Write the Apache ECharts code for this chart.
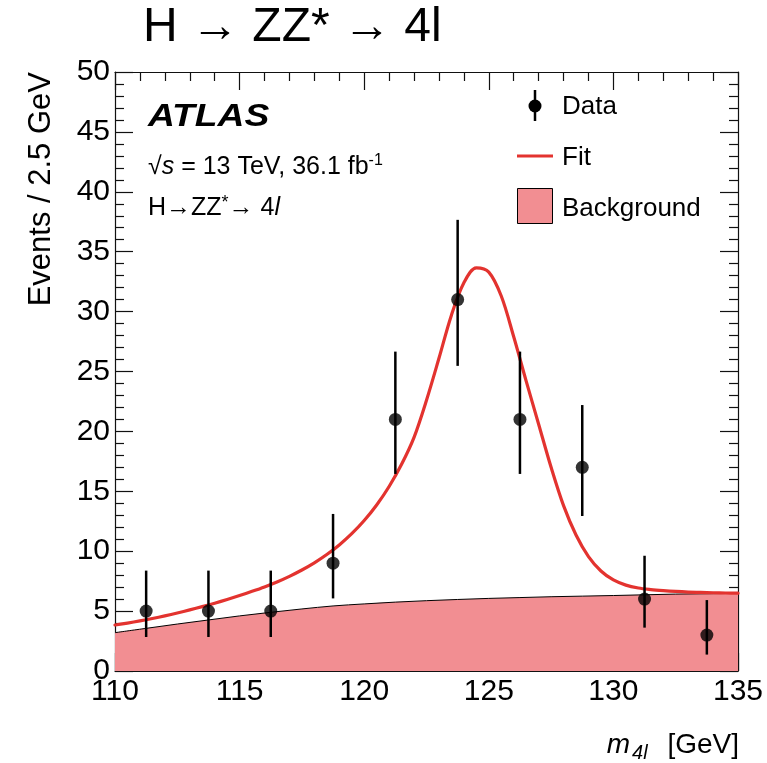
<!DOCTYPE html>
<html>
<head>
<meta charset="utf-8">
<script src="https://cdn.jsdelivr.net/npm/echarts@6/dist/echarts.min.js"></script>
<style>
html,body{margin:0;padding:0;background:#fff;}
#chart{width:767px;height:763px;}
</style>
</head>
<body>
<div id="chart"></div>
<script>
// ---- Data ----
const binCenters = [111.25, 113.75, 116.25, 118.75, 121.25, 123.75, 126.25, 128.75, 131.25, 133.75];
const dataCounts = [5, 5, 5, 9, 21, 31, 21, 17, 6, 3];
const errDown = [2.16, 2.16, 2.16, 2.94, 4.55, 5.53, 4.55, 4.06, 2.38, 1.63];
const errUp   = [3.38, 3.38, 3.38, 4.11, 5.66, 6.66, 5.66, 5.20, 3.62, 2.92];

const bkgX = [110, 111.25, 112.5, 113.75, 115, 116.25, 117.5, 118.75, 120, 121.25, 122.5, 123.75, 125, 126.25, 127.5, 128.75, 130, 131.25, 132.5, 133.75, 135];
const bkgY = [3.2, 3.56, 3.92, 4.26, 4.6, 4.9, 5.18, 5.43, 5.6, 5.75, 5.87, 5.97, 6.06, 6.13, 6.2, 6.25, 6.3, 6.36, 6.42, 6.45, 6.48];

const fitX = [110, 110.5, 111, 111.5, 112, 112.5, 113, 113.5, 114, 114.5,
              115, 115.5, 116, 116.5, 117, 117.5, 118, 118.5, 119, 119.5,
              120, 120.5, 121, 121.5, 122, 122.5, 123, 123.5, 124, 124.5,
              125, 125.5, 126, 126.5, 127, 127.5, 128, 128.5, 129, 129.5,
              130, 130.5, 131, 131.5, 132, 132.5, 133, 133.5, 134, 134.5, 135];
const fitY = [3.84, 4.0, 4.18, 4.38, 4.6, 4.84, 5.1, 5.37, 5.66, 5.97,
              6.3, 6.65, 7.02, 7.43, 7.9, 8.43, 9.03, 9.72, 10.52, 11.46,
              12.56, 13.86, 15.4, 17.25, 19.5, 22.6, 26.1, 29.7, 32.4, 33.65,
              33.3, 31.3, 27.9, 24.2, 20.6, 17.0, 13.8, 11.35, 9.55, 8.35,
              7.6, 7.17, 6.93, 6.8, 6.71, 6.64, 6.59, 6.56, 6.53, 6.51, 6.5];

const xTicks = {min: 110, max: 135, interval: 5};
const yTicks = {min: 0, max: 50, interval: 5};

// ---- Styling ----
const FONT = '"Liberation Sans", Arial, Helvetica, sans-serif';
const RED = '#e3332f';
const PINK = '#f28e92';

const chart = echarts.init(document.getElementById('chart'), null, {renderer: 'canvas'});

function axisCommon(showLabels, margin) {
  return {
    axisLine: {show: true, onZero: false, lineStyle: {color: '#111', width: 1.2}},
    axisTick: {show: true, inside: true, length: 18, lineStyle: {color: '#111', width: 1.2}},
    minorTick: {show: true, splitNumber: 5, length: 9, lineStyle: {color: '#111', width: 1.2}},
    splitLine: {show: false},
    minorSplitLine: {show: false},
    axisLabel: {show: showLabels, color: '#000', fontSize: 30, fontFamily: FONT, margin: margin}
  };
}

const option = {
  backgroundColor: '#fff',
  animation: false,
  grid: {left: 115, right: 29, top: 72, bottom: 92, containLabel: false},
  xAxis: [
    Object.assign({type: 'value', position: 'bottom', min: xTicks.min, max: xTicks.max, interval: xTicks.interval}, axisCommon(true, 6)),
    Object.assign({type: 'value', position: 'top', min: xTicks.min, max: xTicks.max, interval: xTicks.interval}, axisCommon(false, 6))
  ],
  yAxis: [
    Object.assign({type: 'value', position: 'left', min: yTicks.min, max: yTicks.max, interval: yTicks.interval}, axisCommon(true, 5)),
    Object.assign({type: 'value', position: 'right', min: yTicks.min, max: yTicks.max, interval: yTicks.interval}, axisCommon(false, 5))
  ],
  series: [
    {
      name: 'Background', type: 'line', z: 1,
      data: bkgX.map((x, i) => [x, bkgY[i]]),
      smooth: 0.33, showSymbol: false, symbol: 'none',
      lineStyle: {color: '#000', width: 1},
      areaStyle: {color: PINK, opacity: 1}
    },
    {
      name: 'Fit', type: 'line', z: 3,
      data: fitX.map((x, i) => [x, fitY[i]]),
      smooth: 0.33, showSymbol: false, symbol: 'none',
      lineStyle: {color: RED, width: 3.2, join: 'round', cap: 'round'}
    },
    {
      name: 'DataErr', type: 'custom', z: 4,
      data: binCenters.map((x, i) => [x, dataCounts[i] - errDown[i], dataCounts[i] + errUp[i]]),
      renderItem: function (params, api) {
        const lo = api.coord([api.value(0), api.value(1)]);
        const hi = api.coord([api.value(0), api.value(2)]);
        return {type: 'line', shape: {x1: lo[0], y1: lo[1], x2: hi[0], y2: hi[1]},
                style: {stroke: '#000', lineWidth: 2.5}};
      },
      encode: {x: 0, y: [1, 2]}
    },
    {
      name: 'Data', type: 'scatter', z: 5,
      data: binCenters.map((x, i) => [x, dataCounts[i]]),
      symbol: 'circle', symbolSize: 13,
      itemStyle: {color: '#000'}
    }
  ],
  graphic: [
    // Title
    {type: 'text', x: 143, y: 28, style: {text: 'H → ZZ* → 4l', font: '48px ' + FONT, fill: '#000', verticalAlign: 'middle'}},
    // y-axis name
    {type: 'text', x: 41, y: 72, rotation: Math.PI / 2,
     style: {text: 'Events / 2.5 GeV', font: '31px ' + FONT, fill: '#000', align: 'right', verticalAlign: 'middle'}},
    // x-axis name
    {type: 'text', x: 739, y: 745,
     style: {
       text: '{i|m}{sub|4l}{n| [GeV]}', align: 'right', verticalAlign: 'middle',
       font: '28px ' + FONT, fill: '#000',
       rich: {
         i: {fontStyle: 'italic', fontSize: 28, fontFamily: FONT, lineHeight: 32},
         n: {fontStyle: 'normal', fontSize: 28, fontFamily: FONT, lineHeight: 32, padding: [0, 0, 0, 9]},
         sub: {fontStyle: 'italic', fontSize: 20, fontFamily: FONT, lineHeight: 32, padding: [16, 3, 0, 2]}
       }
     }},
    // ATLAS
    {type: 'text', x: 148, y: 117, scaleX: 1.2,
     style: {text: 'ATLAS', font: 'italic bold 31px ' + FONT, fill: '#000', verticalAlign: 'middle'}},
    // sqrt(s)
    {type: 'text', x: 148, y: 167,
     style: {
       text: '{n|√}{i|s}{n| = 13 TeV, 36.1 fb}{sup|-1}', verticalAlign: 'middle',
       font: '25px ' + FONT, fill: '#000',
       rich: {
         n: {fontStyle: 'normal', fontSize: 25, fontFamily: FONT, lineHeight: 30},
         i: {fontSize: 25, fontFamily: FONT, fontStyle: 'italic', lineHeight: 30},
         sup: {fontStyle: 'normal', fontSize: 16, fontFamily: FONT, lineHeight: 30, padding: [0, 0, 13, 0]}
       }
     }},
    // H->ZZ*->4l
    {type: 'text', x: 148, y: 208,
     style: {
       text: '{n|H→ZZ}{sup|*}{n|→ 4}{i|l}', verticalAlign: 'middle',
       font: '25px ' + FONT, fill: '#000',
       rich: {
         n: {fontStyle: 'normal', fontSize: 25, fontFamily: FONT, lineHeight: 30},
         i: {fontSize: 25, fontFamily: FONT, fontStyle: 'italic', lineHeight: 30},
         sup: {fontStyle: 'normal', fontSize: 18, fontFamily: FONT, lineHeight: 30, padding: [0, 0, 10, 0]}
       }
     }},
    // Legend: Data
    {type: 'line', shape: {x1: 535, y1: 90, x2: 535, y2: 121}, style: {stroke: '#000', lineWidth: 2.5}},
    {type: 'circle', shape: {cx: 535, cy: 106, r: 6.5}, style: {fill: '#000'}},
    {type: 'text', x: 562, y: 107, style: {text: 'Data', font: '26px ' + FONT, fill: '#000', verticalAlign: 'middle'}},
    // Legend: Fit
    {type: 'line', shape: {x1: 517, y1: 156, x2: 553, y2: 156}, style: {stroke: RED, lineWidth: 3.2}},
    {type: 'text', x: 562, y: 158, style: {text: 'Fit', font: '26px ' + FONT, fill: '#000', verticalAlign: 'middle'}},
    // Legend: Background
    {type: 'rect', shape: {x: 517.5, y: 188.5, width: 35, height: 35}, style: {fill: PINK, stroke: '#000', lineWidth: 1}},
    {type: 'text', x: 562, y: 209, style: {text: 'Background', font: '26px ' + FONT, fill: '#000', verticalAlign: 'middle'}}
  ]
};

chart.setOption(option);
</script>
</body>
</html>
